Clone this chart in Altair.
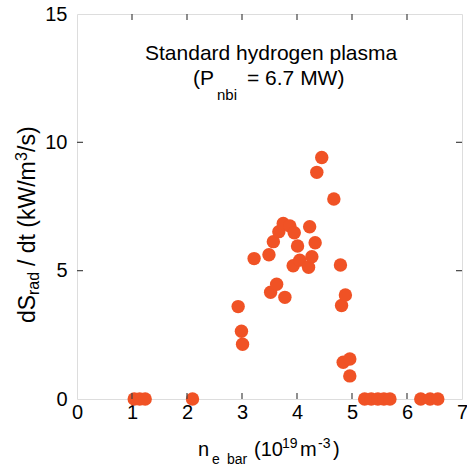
import altair as alt
import pandas as pd

# ---- data ----
ne_bar = [1.04, 1.14, 1.24, 2.10, 5.23, 5.35, 5.47, 5.58, 5.69, 6.25, 6.42, 6.56,
          2.93, 2.99, 3.01, 3.22, 3.49, 3.52, 3.57, 3.63, 3.67, 3.75, 3.78, 3.87,
          3.93, 3.95, 4.01, 4.05, 4.21, 4.23, 4.27, 4.33, 4.36, 4.45, 4.67, 4.79,
          4.81, 4.84, 4.88, 4.96, 4.96]
dsrad = [0, 0, 0, 0, 0, 0, 0, 0, 0, 0, 0, 0,
         3.60, 2.64, 2.13, 5.47, 5.62, 4.16, 6.13, 4.47, 6.52, 6.84, 3.96, 6.74,
         5.19, 6.48, 5.96, 5.41, 5.13, 6.71, 5.54, 6.09, 8.83, 9.41, 7.79, 5.22,
         3.64, 1.43, 4.05, 1.56, 0.90]
x_ticks = [0, 1, 2, 3, 4, 5, 6, 7]
y_ticks = [0, 5, 10, 15]
x_inner_ticks = [1, 2, 3, 4, 5, 6]
y_inner_ticks = [5, 10]

FONT = "Liberation Sans"
COLOR = "#F05225"
W = 385
H = 385

df = pd.DataFrame({"ne": ne_bar, "ds": dsrad})
xs = alt.Scale(domain=[0, 7], nice=False, zero=False)
ys = alt.Scale(domain=[0, 15], nice=False, zero=False)

points = alt.Chart(df).mark_circle(size=180, color=COLOR, opacity=1).encode(
    x=alt.X("ne:Q", scale=xs, axis=alt.Axis(values=x_ticks, format="d", ticks=False,
                                             domain=False, grid=False, title=None,
                                             labelFont=FONT, labelFontSize=20,
                                             labelColor="black", labelPadding=3,
                                             labelFlush=False)),
    y=alt.Y("ds:Q", scale=ys, axis=alt.Axis(values=y_ticks, format="d", ticks=False,
                                             domain=False, grid=False, title=None,
                                             labelFont=FONT, labelFontSize=20,
                                             labelColor="black", labelPadding=10,
                                             labelFlush=False)),
)

xt = pd.DataFrame({"v": x_inner_ticks})
yt = pd.DataFrame({"v": y_inner_ticks})
tick_style = dict(color="#444444", strokeWidth=1.2)
tb = alt.Chart(xt).mark_rule(**tick_style).encode(
    x=alt.X("v:Q", scale=xs), y=alt.value(H), y2=alt.value(H - 6))
tt = alt.Chart(xt).mark_rule(**tick_style).encode(
    x=alt.X("v:Q", scale=xs), y=alt.value(0), y2=alt.value(6))
tl = alt.Chart(yt).mark_rule(**tick_style).encode(
    y=alt.Y("v:Q", scale=ys), x=alt.value(0), x2=alt.value(6))
tr = alt.Chart(yt).mark_rule(**tick_style).encode(
    y=alt.Y("v:Q", scale=ys), x=alt.value(W), x2=alt.value(W - 6))

one = pd.DataFrame({"a": [0]})


def txt(s, x, y, size, angle=0):
    kw = dict(text=s, fontSize=size, font=FONT, align="left",
              baseline="alphabetic", color="black")
    if angle:
        kw["angle"] = angle
    return alt.Chart(one).mark_text(**kw).encode(x=alt.value(x), y=alt.value(y))


texts = [
    # annotation
    txt("Standard hydrogen plasma", 68, 46, 21),
    txt("(P", 116, 71, 21),
    txt("nbi", 140, 86, 15),
    txt("= 6.7 MW)", 170, 71, 21),
    # x title
    txt("n", 121, 442, 20),
    txt("e", 135, 450, 14),
    txt("bar", 150, 450, 14),
    txt("(10", 177, 442, 20),
    txt("19", 205, 434, 14),
    txt("m", 223, 442, 20),
    txt("-3", 241, 434, 14),
    txt(")", 256, 442, 20),
    # y title (rotated)
    txt("dS", -42, 309, 23, 270),
    txt("rad", -38, 281, 16, 270),
    txt("/ dt (kW/m", -42, 252, 23, 270),
    txt("3", -50, 147, 16, 270),
    txt("/s)", -42, 138, 23, 270),
]

chart = alt.layer(points, tb, tt, tl, tr, *texts).properties(
    width=W, height=H,
    autosize=alt.AutoSizeParams(type="none"),
    padding={"left": 77, "top": 14, "right": 5, "bottom": 67},
).configure_view(stroke="#222222", strokeWidth=1.5).configure(background="white")

chart.save("out.html", embed_options={"renderer": "svg", "actions": False})
